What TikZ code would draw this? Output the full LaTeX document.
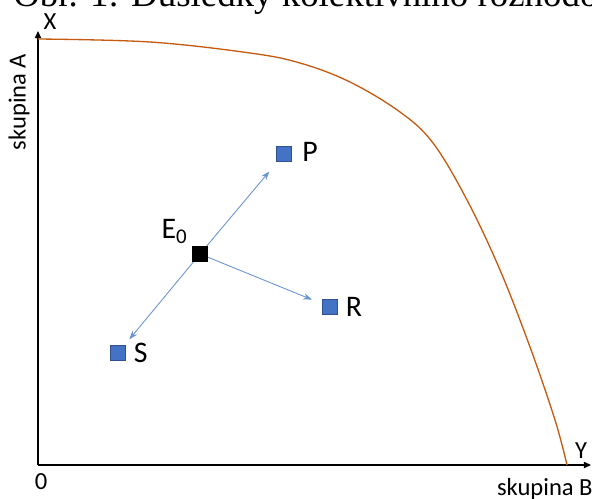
\documentclass[tikz,border=0pt]{standalone}
\usepackage{fontspec}
\setmainfont{Carlito}
\newfontfamily\captionfont{Liberation Serif}
\usetikzlibrary{arrows.meta,positioning}
\definecolor{FrontierOrange}{HTML}{C55A11}
\definecolor{StateBlue}{HTML}{4472C4}
\definecolor{StateEdge}{HTML}{2F528F}
\definecolor{MoveBlue}{HTML}{6A93D4}
\tikzset{
    % Axes and their labels
    axis/.style={
        -{Triangle[length=4pt,width=3.5pt]},
        line width=0.7pt,
        color=black
    },
    axis label/.style={
        inner sep=0pt,
        font=\fontsize{14}{16}\selectfont
    },
    % Possibility frontier
    frontier/.style={
        line width=0.75pt,
        color=FrontierOrange
    },
    % Small square states
    state/.style={
        rectangle,
        draw=StateEdge,
        fill=StateBlue,
        line width=0.5pt,
        minimum size=0.3cm,
        inner sep=0pt
    },
    state initial/.style={
        state,
        draw=black,
        fill=black
    },
    state label/.style={
        inner sep=0pt,
        font=\fontsize{17}{20}\selectfont
    },
    move/.style={
        -{Stealth[length=5pt,width=3.6pt]},
        line width=0.5pt,
        color=MoveBlue
    }
}

\begin{document}
\begin{tikzpicture}[x=0.02cm, y=-0.02cm]
        \useasboundingbox (0,0) rectangle (592,498);

        % Caption, cut off by the page edge
        \node[anchor=base west, inner sep=0pt, font=\captionfont\fontsize{21}{25}\selectfont]
              (caption) at (13,6) {Obr. 1: Důsledky kolektivního rozhodování};

        % Axes
        \coordinate (origin) at (38,465);
        \coordinate (xtop) at (38,31);
        \coordinate (yend) at (591,465);
        \draw[axis] (origin) -- (xtop);
        \draw[axis] (origin) -- (yend);

        \node[axis label] (xlab) at (50,22) {X};
        \node[axis label] (ylab) at (581,451) {Y};
        \node[axis label] (zero) at (41,482) {0};
        \node[axis label, anchor=east] (groupB) at (593,489) {skupina B};
        \node[axis label, rotate=90] (groupA) at (19,102) {skupina A};

        % Frontier
        \draw[frontier] plot[smooth, tension=0.6] coordinates {
              (38,39) (150,42) (250,53) (300,63) (350,82) (400,112)
              (433,143) (467,200) (500,270) (530,347) (555,420) (567,465)};

        % States
        \node[state initial] (E0) at (200,254) {};
        \node[state] (P) at (284,154) {};
        \node[state] (R) at (330,307) {};
        \node[state] (S) at (118,353) {};

        \node[state label, above left=0.05cm and 0.08cm of E0] (E0lab) {E\textsubscript{0}};
        \node[state label, right=0.2cm of P, yshift=1pt] (Plab) {P};
        \node[state label, right=0.15cm of R] (Rlab) {R};
        \node[state label, right=0.15cm of S] (Slab) {S};

        % Moves
        \draw[move, shorten >=0.25cm] (E0.center) -- (P);
        \draw[move, shorten >=0.22cm] (E0.center) -- (R);
        \draw[move, shorten >=0.15cm] (E0.center) -- (S);
        \node[state initial] at (E0) {};
    \end{tikzpicture}
\end{document}
